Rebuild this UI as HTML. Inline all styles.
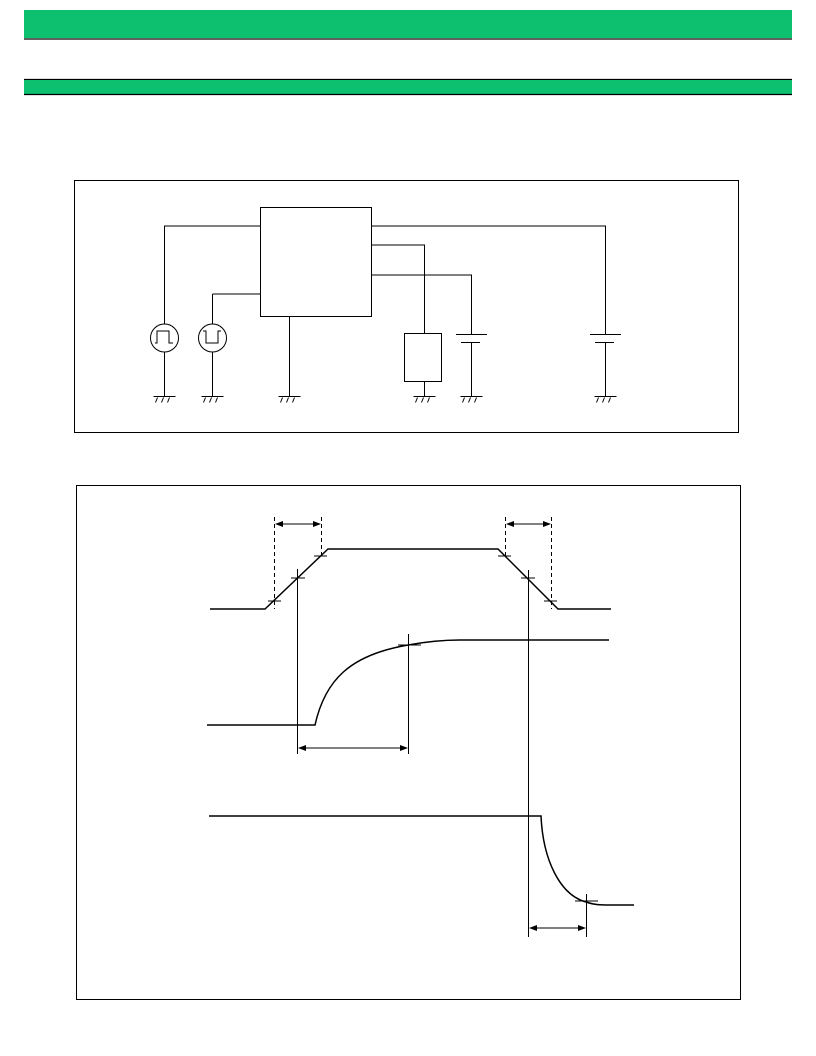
<!DOCTYPE html>
<html><head><meta charset="utf-8"><style>
html,body{margin:0;padding:0;background:#fff;width:816px;height:1056px;overflow:hidden}
svg{display:block}
</style></head><body>
<svg width="816" height="1056" viewBox="0 0 816 1056" xmlns="http://www.w3.org/2000/svg">
<defs>
<marker id="a" markerWidth="8" markerHeight="6" refX="7" refY="3" orient="auto-start-reverse" markerUnits="userSpaceOnUse"><path d="M0,0 L8,3 L0,6 z" fill="#000"/></marker>
<g id="gnd" stroke="#000" stroke-width="1" fill="none"><line x1="-11" y1="0" x2="11" y2="0"/><line x1="-7" y1="1" x2="-9" y2="6"/><line x1="-1" y1="1" x2="-3" y2="6"/><line x1="5" y1="1" x2="3" y2="6"/></g>
</defs>
<rect x="24" y="10" width="768" height="28" fill="#0cc06f"/>
<line x1="24" y1="39" x2="792" y2="39" stroke="#000" stroke-width="1.2"/>
<line x1="24" y1="79.5" x2="792" y2="79.5" stroke="#000" stroke-width="1.2"/>
<rect x="24" y="80" width="768" height="14" fill="#0cc06f"/>
<line x1="24" y1="94.5" x2="792" y2="94.5" stroke="#000" stroke-width="1.2"/>

<g stroke="#000" stroke-width="1" fill="none">
<rect x="74.5" y="180.5" width="664" height="252"/>
<rect x="260.5" y="207.5" width="111" height="109"/>
<polyline points="260,226 164.5,226 164.5,324"/>
<line x1="164.5" y1="352" x2="164.5" y2="396"/>
<circle cx="164.5" cy="338" r="14"/>
<polyline points="155,343 157,343 157,331 169,331 169,343 173,343" />
<polyline points="212.5,294 260,294"/>
<polyline points="212.5,294 212.5,324"/>
<line x1="212.5" y1="352" x2="212.5" y2="396"/>
<circle cx="212.5" cy="338" r="14"/>
<polyline points="203,331 206,331 206,343 218,343 218,331 221,331"/>
<line x1="289.5" y1="317" x2="289.5" y2="396"/>
<polyline points="371,226 605.5,226 605.5,334"/>
<line x1="590" y1="334.5" x2="621" y2="334.5"/>
<line x1="595" y1="342.5" x2="614" y2="342.5"/>
<line x1="605.5" y1="342" x2="605.5" y2="396"/>
<polyline points="371,245 424.5,245 424.5,333"/>
<rect x="404.5" y="333.5" width="37" height="48"/>
<line x1="424.5" y1="382" x2="424.5" y2="396"/>
<polyline points="371,275 471.5,275 471.5,334"/>
<line x1="456" y1="334.5" x2="487" y2="334.5"/>
<line x1="461" y1="342.5" x2="480" y2="342.5"/>
<line x1="471.5" y1="342" x2="471.5" y2="396"/>
</g>
<use href="#gnd" x="164.5" y="396.5"/>
<use href="#gnd" x="212.5" y="396.5"/>
<use href="#gnd" x="289.5" y="396.5"/>
<use href="#gnd" x="424.5" y="396.5"/>
<use href="#gnd" x="471.5" y="396.5"/>
<use href="#gnd" x="605.5" y="396.5"/>

<g stroke="#000" stroke-width="1" fill="none">
<rect x="76.5" y="485.5" width="664" height="514"/>
<polyline stroke-width="1.5" points="210,609 265,609 328,549 498,549 558,609 611,609"/>
<g stroke-dasharray="4,3">
<line x1="274.5" y1="517" x2="274.5" y2="609"/>
<line x1="321.5" y1="517" x2="321.5" y2="556"/>
<line x1="505.5" y1="517" x2="505.5" y2="556"/>
<line x1="551.5" y1="517" x2="551.5" y2="609"/>
</g>
<line x1="276" y1="524" x2="320" y2="524" marker-end="url(#a)" marker-start="url(#a)"/>
<line x1="507" y1="524" x2="550" y2="524" marker-end="url(#a)" marker-start="url(#a)"/>
<line x1="268" y1="601" x2="281" y2="601"/><line x1="291" y1="578" x2="305" y2="578"/><line x1="314" y1="556" x2="327" y2="556"/>
<line x1="498" y1="556" x2="511" y2="556"/><line x1="521" y1="578" x2="535" y2="578"/><line x1="544" y1="601" x2="557" y2="601"/>
<line x1="297.5" y1="569" x2="297.5" y2="754"/>
<line x1="528.5" y1="570" x2="528.5" y2="937"/>
<path stroke-width="1.5" d="M207,725 L315,725 C325,680 350,655 408,645 C430,641 445,640 460,640 L609,640"/>
<line x1="398" y1="645" x2="421" y2="645"/>
<line x1="408.5" y1="634" x2="408.5" y2="754"/>
<line x1="299" y1="748" x2="407" y2="748" marker-end="url(#a)" marker-start="url(#a)"/>
<path stroke-width="1.5" d="M209,816 L541,816 C543,860 560,895 586,902 C595,905 600,905 610,905 L634,905"/>
<line x1="575" y1="901" x2="598" y2="901"/>
<line x1="586.5" y1="894" x2="586.5" y2="937"/>
<line x1="530" y1="928" x2="585" y2="928" marker-end="url(#a)" marker-start="url(#a)"/>
</g>
</svg>
</body></html>
